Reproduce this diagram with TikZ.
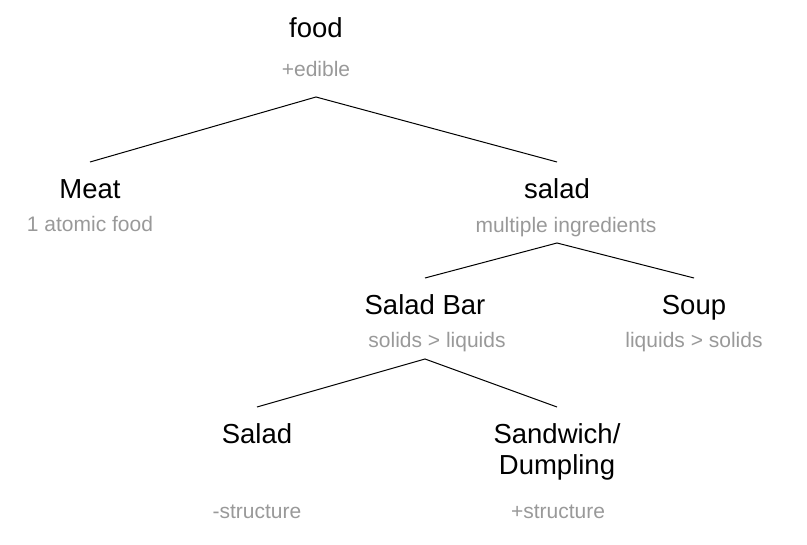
\documentclass[tikz,border=0pt]{standalone}
\usepackage{fontspec}
\setmainfont{Liberation Sans}
\usepackage{tikz}
\usetikzlibrary{positioning, calc}
\definecolor{notegray}{RGB}{153,153,153}

\begin{document}
\begin{tikzpicture}[x=1pt, y=-1pt,
    term/.style={anchor=north, align=center, inner xsep=0pt, inner ysep=16.5pt,
        text height=20pt, text depth=6pt, font=\fontsize{27.5}{31}\selectfont},
    note/.style={anchor=base, inner sep=0pt, text=notegray,
        font=\fontsize{21}{25}\selectfont},
    branch/.style={line width=1pt}]
    \useasboundingbox (0,0) rectangle (807,545);

    \node [term] (food) at (316,0.5) {food};
    \node [note] (edible) at (316,77) {+edible};
    \node [term] (meat) at (90,162) {Meat};
    \node [note] (atomic) at (90,232) {1 atomic food};
    \node [term] (salad) at (557,162) {salad};
    \node [note] (ingredients) at (566,233) {multiple ingredients};
    \node [term] (saladbar) at (425,278) {Salad Bar};
    \node [note] (solids) at (437,348) {solids > liquids};
    \node [term] (soup) at (694,278) {Soup};
    \node [note] (liquids) at (694,348) {liquids > solids};
    \node [term] (plainsalad) at (257,407) {Salad};
    \node [note] (nostructure) at (257,519) {-structure};
    % two lines: the box sits on its last line
    \node [term, text height=51pt] (sandwich) at (557,407) {Sandwich/\\Dumpling};
    \node [note] (structure) at (558,519) {+structure};

    \coordinate (foodfork) at (316,97);
    \coordinate (saladfork) at (557,243);
    \coordinate (barfork) at (425,359);

    \draw [branch] (meat.north) -- (foodfork) -- (salad.north);
    \draw [branch] (saladbar.north) -- (saladfork) -- (soup.north);
    \draw [branch] (plainsalad.north) -- (barfork) -- (sandwich.north);
\end{tikzpicture}
\end{document}
